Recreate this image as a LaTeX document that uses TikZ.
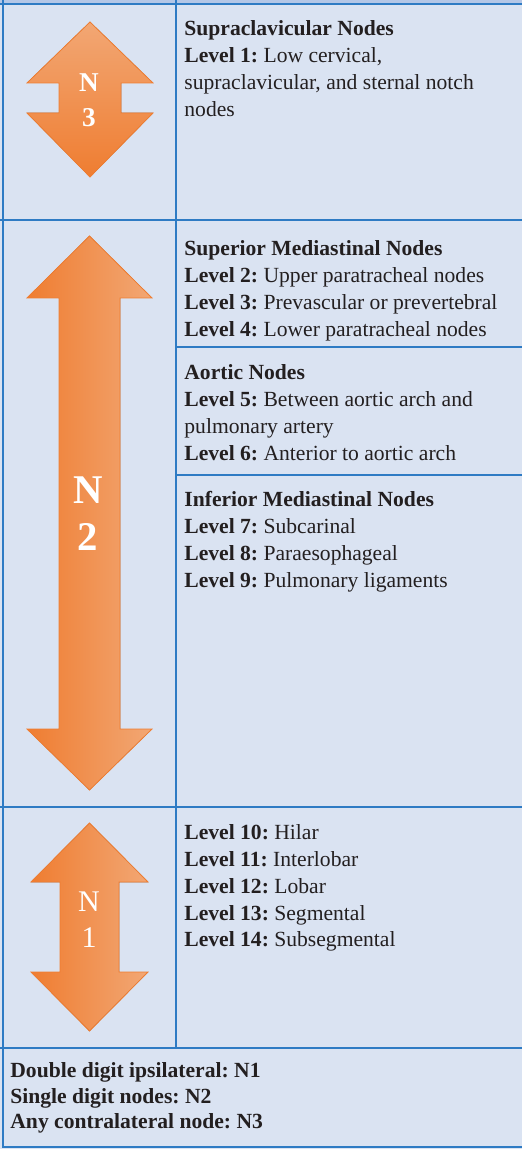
\documentclass[tikz,border=0pt]{standalone}
\usepackage{fontspec}
\setmainfont{Liberation Serif}
\usetikzlibrary{positioning}
\frenchspacing
\definecolor{cellbg}{HTML}{DAE3F2}
\definecolor{rulecol}{HTML}{2E7BC4}
\definecolor{topstrip}{HTML}{B4C7E7}
\definecolor{orgdark}{HTML}{EF7D31}
\definecolor{orglight}{HTML}{F2A774}
\definecolor{ink}{HTML}{231F20}

\begin{document}
\begin{tikzpicture}[x=0.5pt,y=-0.5pt,
  txt/.style={anchor=north west,inner sep=0pt,align=left,text=ink,
    font=\fontsize{10.8}{13.4}\selectfont},
  nlbl/.style={text=white,inner sep=0pt,align=center},
  gridline/.style={draw=rulecol,line width=1pt},
  arrowfill/.style={draw=orgdark,line width=0.4pt,line join=miter}]
  \useasboundingbox (0,0) rectangle (522,1149);
  \fill[topstrip] (0,0) rectangle (522,4.5);
  \fill[cellbg] (0,4.5) rectangle (522,1149);
  % table rules
  \draw[gridline] (0,4.5) -- (522,4.5);
  \draw[gridline] (3,0) -- (3,1147) -- (522,1147);
  \draw[gridline] (176,0) -- (176,1048);
  \draw[gridline] (0,220) -- (522,220) (0,807) -- (522,807) (0,1048) -- (522,1048);
  \draw[gridline] (176,347) -- (522,347) (176,475) -- (522,475);
  % double arrows
  \filldraw[arrowfill,top color=orglight,bottom color=orgdark]
    (90,22) -- (153,83) -- (121,83) -- (121,113) -- (153,113) -- (90,177)
    -- (27,113) -- (59,113) -- (59,83) -- (27,83) -- cycle;
  \filldraw[arrowfill,left color=orgdark,right color=orglight]
    (89.5,236) -- (152,298) -- (120,298) -- (120,729) -- (152,729) -- (89.5,790)
    -- (27,729) -- (59,729) -- (59,298) -- (27,298) -- cycle;
  \filldraw[arrowfill,left color=orgdark,right color=orglight]
    (89.5,823) -- (148,882) -- (119,882) -- (119,972) -- (148,972) -- (89.5,1031)
    -- (31,972) -- (60,972) -- (60,882) -- (31,882) -- cycle;
  \node[nlbl,font=\fontsize{13.6}{17.5}\selectfont\bfseries] (n3) at (89,100.5) {N\\3};
  \node[nlbl,font=\fontsize{20.4}{23.5}\selectfont\bfseries] (n2) at (88,513.5) {N\\2};
  \node[nlbl,font=\fontsize{15}{18}\selectfont] (n1) at (89,920) {N\\1};
  % cell texts
  \node[txt] (supra) at (184,20.3) {\textbf{Supraclavicular Nodes}\\
    \textbf{Level 1:} Low cervical,\\ supraclavicular, and sternal notch\\ nodes};
  \node[txt] (superior) at (184,240.3) {\textbf{Superior Mediastinal Nodes}\\
    \textbf{Level 2:} Upper paratracheal nodes\\
    \textbf{Level 3:} Prevascular or prevertebral\\
    \textbf{Level 4:} Lower paratracheal nodes};
  \node[txt] (aortic) at (184,364.3) {\textbf{Aortic Nodes}\\
    \textbf{Level 5:} Between aortic arch and\\ pulmonary artery\\
    \textbf{Level 6:} Anterior to aortic arch};
  \node[txt] (inferior) at (184,491.3) {\textbf{Inferior Mediastinal Nodes}\\
    \textbf{Level 7:} Subcarinal\\
    \textbf{Level 8:} Paraesophageal\\
    \textbf{Level 9:} Pulmonary ligaments};
  \node[txt] (hilar) at (184,824.3) {\textbf{Level 10:} Hilar\\
    \textbf{Level 11:} Interlobar\\
    \textbf{Level 12:} Lobar\\
    \textbf{Level 13:} Segmental\\
    \textbf{Level 14:} Subsegmental};
  \node[txt,font=\fontsize{10.8}{12.6}\selectfont\bfseries] (rules) at (10,1062.5)
    {Double digit ipsilateral: N1\\ Single digit nodes: N2\\ Any contralateral node: N3};
\end{tikzpicture}
\end{document}
